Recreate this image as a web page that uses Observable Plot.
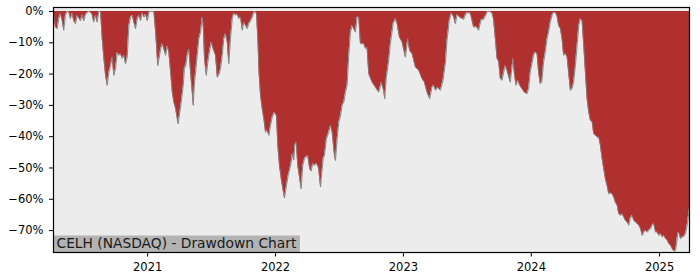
<!DOCTYPE html>
<html>
<head>
<meta charset="utf-8">
<script src="https://cdn.jsdelivr.net/npm/d3@7"></script>
<script src="https://cdn.jsdelivr.net/npm/@observablehq/plot@0.6"></script>
<style>
  html, body { margin: 0; padding: 0; background: #ffffff; }
  #chart { width: 700px; height: 280px; }
  svg { display: block; }
</style>
</head>
<body>
<div id="chart"></div>
<script>
const years = [
  2020.266, 2020.281, 2020.295, 2020.307, 2020.320, 2020.334, 2020.346, 2020.359, 2020.373, 2020.385,
  2020.398, 2020.412, 2020.424, 2020.438, 2020.451, 2020.463, 2020.477, 2020.490, 2020.502, 2020.516,
  2020.529, 2020.541, 2020.555, 2020.568, 2020.580, 2020.594, 2020.607, 2020.620, 2020.633, 2020.646,
  2020.659, 2020.672, 2020.685, 2020.698, 2020.711, 2020.724, 2020.737, 2020.750, 2020.763, 2020.776,
  2020.789, 2020.802, 2020.815, 2020.828, 2020.841, 2020.854, 2020.867, 2020.880, 2020.893, 2020.906,
  2020.920, 2020.932, 2020.945, 2020.959, 2020.971, 2020.984, 2020.998, 2021.010, 2021.023, 2021.049,
  2021.063, 2021.076, 2021.080, 2021.102, 2021.115, 2021.127, 2021.141, 2021.154, 2021.166, 2021.180,
  2021.193, 2021.205, 2021.219, 2021.232, 2021.239, 2021.252, 2021.263, 2021.279, 2021.289, 2021.297,
  2021.310, 2021.323, 2021.336, 2021.349, 2021.357, 2021.367, 2021.383, 2021.401, 2021.414, 2021.427,
  2021.435, 2021.445, 2021.459, 2021.471, 2021.487, 2021.498, 2021.513, 2021.531, 2021.545, 2021.557,
  2021.570, 2021.584, 2021.596, 2021.609, 2021.623, 2021.635, 2021.648, 2021.662, 2021.674, 2021.688,
  2021.701, 2021.713, 2021.727, 2021.740, 2021.752, 2021.766, 2021.779, 2021.791, 2021.805, 2021.818,
  2021.830, 2021.844, 2021.852, 2021.863, 2021.871, 2021.883, 2021.896, 2021.909, 2021.922, 2021.935,
  2021.948, 2021.961, 2021.974, 2021.992, 2022.008, 2022.018, 2022.031, 2022.045, 2022.060, 2022.070,
  2022.086, 2022.099, 2022.112, 2022.123, 2022.130, 2022.143, 2022.151, 2022.162, 2022.174, 2022.190,
  2022.201, 2022.213, 2022.227, 2022.240, 2022.252, 2022.268, 2022.279, 2022.291, 2022.305, 2022.318,
  2022.330, 2022.338, 2022.352, 2022.359, 2022.373, 2022.383, 2022.398, 2022.416, 2022.430, 2022.443,
  2022.461, 2022.469, 2022.482, 2022.495, 2022.508, 2022.521, 2022.534, 2022.547, 2022.560, 2022.573,
  2022.586, 2022.599, 2022.612, 2022.625, 2022.638, 2022.651, 2022.664, 2022.690, 2022.703, 2022.716,
  2022.729, 2022.755, 2022.781, 2022.807, 2022.828, 2022.846, 2022.854, 2022.867, 2022.885, 2022.898,
  2022.920, 2022.938, 2022.951, 2022.969, 2022.990, 2023.016, 2023.034, 2023.049, 2023.068, 2023.094,
  2023.120, 2023.146, 2023.164, 2023.185, 2023.205, 2023.224, 2023.236, 2023.252, 2023.268, 2023.289,
  2023.310, 2023.328, 2023.341, 2023.359, 2023.375, 2023.393, 2023.406, 2023.420, 2023.445, 2023.471,
  2023.492, 2023.523, 2023.549, 2023.570, 2023.588, 2023.607, 2023.627, 2023.659, 2023.674, 2023.693,
  2023.705, 2023.719, 2023.732, 2023.745, 2023.758, 2023.771, 2023.784, 2023.797, 2023.810, 2023.836,
  2023.849, 2023.857, 2023.867, 2023.880, 2023.896, 2023.909, 2023.927, 2023.945, 2023.966, 2023.979,
  2023.992, 2024.005, 2024.018, 2024.031, 2024.045, 2024.057, 2024.070, 2024.082, 2024.096, 2024.109,
  2024.123, 2024.135, 2024.148, 2024.162, 2024.174, 2024.188, 2024.201, 2024.213, 2024.227, 2024.240,
  2024.252, 2024.266, 2024.279, 2024.291, 2024.305, 2024.318, 2024.330, 2024.344, 2024.357, 2024.370,
  2024.383, 2024.396, 2024.409, 2024.422, 2024.435, 2024.448, 2024.461, 2024.474, 2024.487, 2024.500,
  2024.513, 2024.526, 2024.539, 2024.552, 2024.565, 2024.578, 2024.591, 2024.604, 2024.617, 2024.630,
  2024.643, 2024.656, 2024.670, 2024.682, 2024.695, 2024.709, 2024.721, 2024.734, 2024.748, 2024.760,
  2024.773, 2024.787, 2024.799, 2024.813, 2024.826, 2024.838, 2024.852, 2024.865, 2024.877, 2024.891,
  2024.904, 2024.916, 2024.930, 2024.943, 2024.955, 2024.969, 2024.982, 2024.995, 2025.008, 2025.021,
  2025.034, 2025.047, 2025.060, 2025.073, 2025.086, 2025.099, 2025.112, 2025.125, 2025.133, 2025.143,
  2025.154, 2025.164, 2025.177, 2025.190, 2025.203, 2025.216, 2025.229, 2025.234
];

// Drawdown from running peak, in percent
const drawdown = [
  -0.5, -5, -5.5, -2.3, -0.7, -2.9, -6, -1.3, 0, 0,
  -2.3, -0.5, -3, -3.9, -1.3, -2, -3, -1, -3, -1,
  -0.5, 0, -0.3, -1, -3.4, -1.3, -3.4, 0, 0, -8.7,
  -15, -20.4, -23.6, -19.4, -17.3, -14.6, -20.4, -18.3, -13, -14,
  -13.5, -15, -14, -16.7, -14.5, -4.5, -1.8, -1.2, -3.4, -5.5,
  -2.3, -1.2, -2.9, -0.5, -1.8, -0.9, -3, -0.4, 0, 0,
  -6.6, -15, -17.3, -12, -10.3, -12, -14, -11, -13, -19.4,
  -25.8, -29, -31, -34.3, -35.9, -32.2, -29, -23.6, -17.3, -17.7,
  -14, -12, -19.4, -25.8, -30, -22.6, -16.2, -8.7, -6.6, -1.8,
  -4.5, -15, -20.4, -16.2, -12, -9.8, -12, -14, -21, -20.3,
  -18.3, -14, -8.7, -7.1, -9.8, -16.7, -8.7, -2.3, -0.5, -1.2,
  -0.8, -2.3, -1.8, -6, -3.4, -4.5, -5.5, -3.9, -3, -1.8,
  -0.5, 0, -1, -10, -19.4, -26.8, -31, -34.3, -38.6, -38,
  -39.6, -36.4, -33.8, -32.2, -33.4, -42.8, -49.2, -53.5, -57.2, -59.6,
  -55.6, -52.4, -50.3, -48.1, -45.5, -47.5, -42.8, -41.8, -49.2, -53.5,
  -56.7, -49.2, -47, -46.5, -46, -50.3, -51, -48.6, -49.2, -48.6,
  -49.2, -50.3, -56.1, -53, -47, -46, -40.7, -38.6, -36.4, -38.6,
  -46, -47.6, -40.7, -35.4, -33.4, -30, -29, -25.8, -23.6, -14,
  -6.6, -4.5, -5.5, -6.6, -1.8, -1.8, -10.3, -10.3, -11.8, -11.6,
  -19.9, -22.6, -24.2, -25.8, -22.6, -25.3, -27.9, -21, -15.7, -10.3,
  -3.9, -2.3, -3.9, -8.2, -9.8, -14.6, -8.7, -12.5, -13.5, -17.8,
  -18.8, -21.5, -22.6, -25.8, -27.9, -24.2, -23.6, -25.2, -24.2, -25.2,
  -22, -16.7, -9.3, -2.9, -0.5, -1.7, -3.9, -1, -2, -2.5,
  -0.5, -0.5, -5, -4.8, -6, -2.7, -2.5, 0, 0, -0.5,
  -2.5, -8.7, -15, -16, -21.5, -22, -19.4, -17.3, -18.8, -22.6,
  -17.8, -15, -19.4, -23.6, -22, -23.6, -24.7, -25.8, -26.3, -24.7,
  -19.4, -16.7, -14, -13, -13.5, -19.4, -23.1, -22.6, -16.2, -13,
  -8.7, -6.6, -3.4, -1.3, -0.3, -0.3, -1.5, -4.5, -5.5, -8.7,
  -14, -13.5, -14.5, -19.4, -25.2, -24.7, -22.6, -17.3, -10.9, -4.5,
  -2.3, -2.9, -10.9, -19.4, -27.9, -32.2, -34.8, -35.2, -39.1, -39.5,
  -40.2, -40.2, -42.8, -47, -50.3, -53.5, -55.6, -58.3, -58, -58.3,
  -59.3, -61, -62, -64.7, -65.2, -64.7, -65.7, -66.8, -67.3, -68.3,
  -66, -65.2, -66.8, -67.3, -67.8, -68.3, -69.4, -71.6, -70.5, -70,
  -70.5, -70, -69.4, -68.3, -67.8, -70.5, -70.5, -71.6, -71, -72.1,
  -71.6, -72.6, -73.1, -74.2, -74.7, -75.8, -76.6, -76.4, -74.2, -70.5,
  -71, -72.6, -72.1, -71.9, -71, -68.3, -64.1, -63
];

// Tick labels
const xTickYears = [2021, 2022, 2023, 2024, 2025];
const yTicks = [0, -10, -20, -30, -40, -50, -60, -70];
const chartTitle = "CELH (NASDAQ) - Drawdown Chart";

function decYearToDate(t) {
  const y = Math.floor(t);
  const a = Date.UTC(y, 0, 1), b = Date.UTC(y + 1, 0, 1);
  return new Date(a + (t - y) * (b - a));
}

const data = years.map((t, i) => ({date: decYearToDate(t), dd: drawdown[i]}));
const xTicks = xTickYears.map(y => new Date(Date.UTC(y, 0, 1)));

const W = 700, H = 280, mL = 53, mR = 11, mT = 7, mB = 28;

const plot = Plot.plot({
  width: W,
  height: H,
  marginLeft: mL,
  marginRight: mR,
  marginTop: mT,
  marginBottom: mB,
  style: {fontFamily: "'DejaVu Sans', sans-serif", fontSize: "11.5px", color: "#000", background: "#fff"},
  x: {type: "utc", domain: [data[0].date, data[data.length - 1].date]},
  y: {domain: [-77.0, 1.28]},
  marks: [
    Plot.frame({fill: "#ececec", stroke: null}),
    Plot.areaY(data, {x: "date", y1: 0, y2: "dd", fill: "#b03030", curve: "linear"}),
    Plot.line(data, {x: "date", y: "dd", stroke: "#808080", strokeWidth: 1, strokeOpacity: 0.9}),
    Plot.axisX({ticks: xTicks, tickFormat: d => String(d.getUTCFullYear()), tickSize: 4.5, tickPadding: 6, label: null, stroke: "#000", fill: "#000", fontSize: 11.5}),
    Plot.axisY({ticks: yTicks, tickFormat: d => (d < 0 ? "\u2212" : "") + Math.abs(d) + "%", tickSize: 4, tickPadding: 6, label: null, stroke: "#000", fill: "#000", fontSize: 11.5}),
    Plot.text([chartTitle], {frameAnchor: "bottom-left", text: d => d, dx: 3, dy: -5, fontSize: 13.8, fill: "#1a1a1a", textAnchor: "start", lineAnchor: "bottom", className: "dd-title"}),
    Plot.frame({stroke: "#000", strokeWidth: 1.2})
  ]
});

document.getElementById("chart").appendChild(plot);

// gray label box behind the title text
const titleG = plot.querySelector("g.dd-title");
const titleNode = titleG ? titleG.querySelector("text") : null;
if (titleNode) {
  const sr = plot.getBoundingClientRect();
  const tr = titleNode.getBoundingClientRect();
  const x0 = mL;
  const x1 = tr.right - sr.left + 3;
  const y0 = tr.top - sr.top + 1;
  const y1 = H - mB;
  const rect = document.createElementNS("http://www.w3.org/2000/svg", "rect");
  rect.setAttribute("x", x0);
  rect.setAttribute("y", y0);
  rect.setAttribute("width", x1 - x0);
  rect.setAttribute("height", y1 - y0);
  rect.setAttribute("fill", "#b3b3b3");
  titleG.parentNode.insertBefore(rect, titleG);
}
</script>
</body>
</html>
